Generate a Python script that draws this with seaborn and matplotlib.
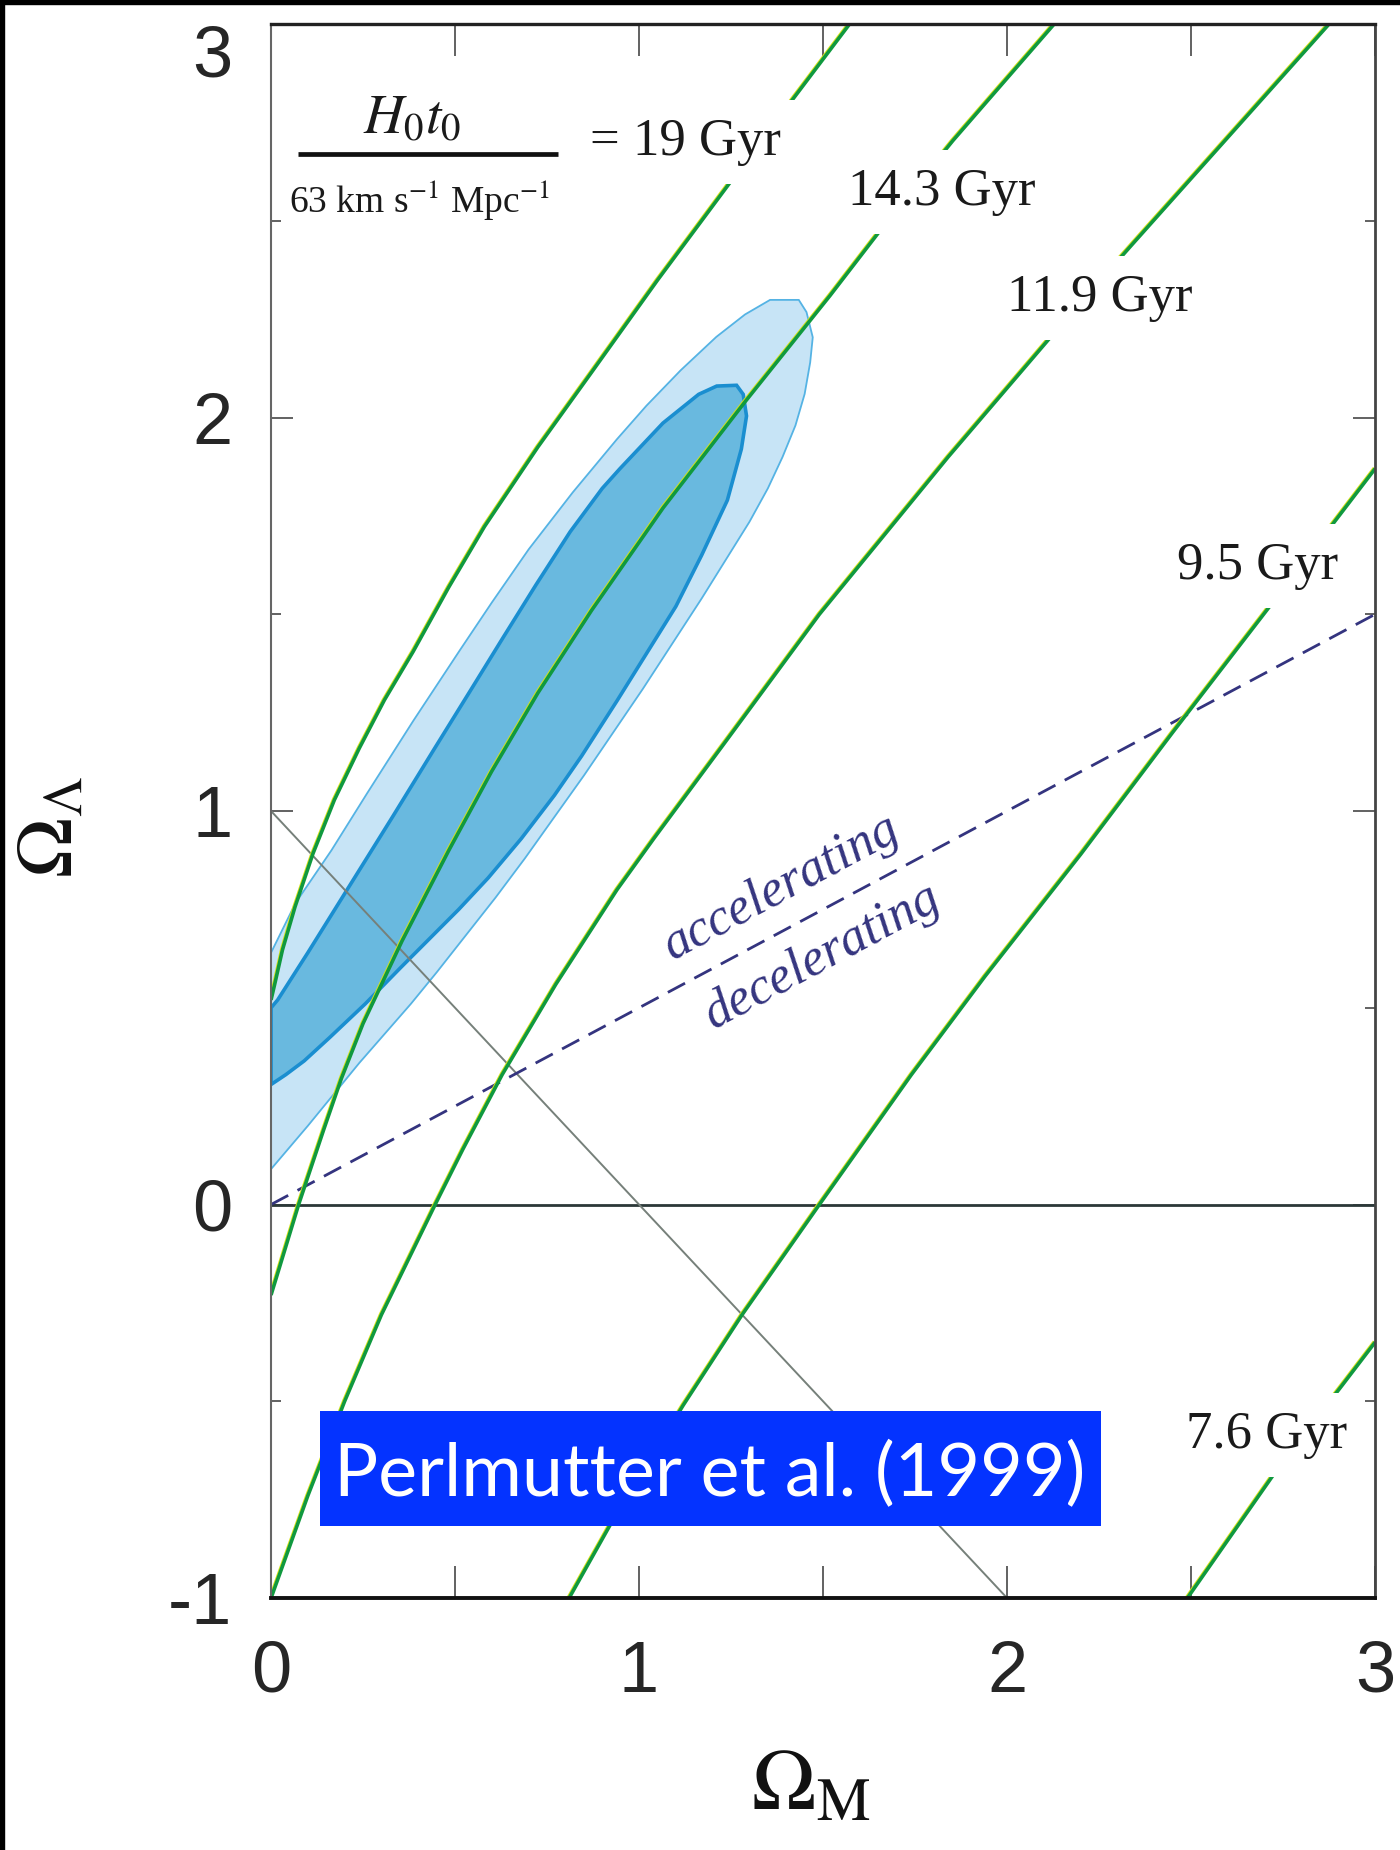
"""
plot.py
Perlmutter et al. (1999) confidence regions in the (Omega_M, Omega_Lambda) plane
with constant-age curves. Values read off the published figure.
"""

import numpy as np
import pandas as pd
import matplotlib
matplotlib.use("Agg")
import matplotlib.pyplot as plt
import matplotlib.patheffects as pe
import seaborn as sns
from matplotlib.patches import Rectangle

# ─── Data ──────────────────────────────────────────────────────────────────────
# constant-age curves, H0 t0 scaled to 63 km/s/Mpc
age_names = ["19 Gyr", "14.3 Gyr", "11.9 Gyr", "9.5 Gyr", "7.6 Gyr"]

age_19_om = [0.000, 0.009, 0.031, 0.065, 0.114, 0.172, 0.240, 0.308, 0.386, 0.483,
             0.580, 0.725, 0.871, 1.050, 1.266, 1.572]
age_19_ol = [0.520, 0.556, 0.647, 0.756, 0.892, 1.028, 1.160, 1.282, 1.405, 1.569,
             1.723, 1.925, 2.115, 2.349, 2.621, 3.000]

age_143_om = [0.000, 0.075, 0.143, 0.191, 0.250, 0.356, 0.483, 0.599, 0.725, 0.871,
              1.065, 1.288, 1.519, 1.673, 1.853, 2.128]
age_143_ol = [-0.230, 0.000, 0.190, 0.320, 0.460, 0.670, 0.900, 1.100, 1.300, 1.510,
              1.770, 2.040, 2.310, 2.497, 2.704, 3.000]

age_119_om = [0.000, 0.100, 0.200, 0.300, 0.446, 0.521, 0.628, 0.774, 0.940, 1.040,
              1.230, 1.490, 1.840, 2.160, 2.340, 2.875]
age_119_ol = [-1.000, -0.740, -0.500, -0.280, 0.000, 0.140, 0.330, 0.560, 0.800, 0.930,
              1.170, 1.500, 1.900, 2.250, 2.440, 3.000]

age_95_om = [0.81, 0.93, 1.12, 1.28, 1.49, 1.74, 1.94, 2.20, 2.45, 2.73, 3.00]
age_95_ol = [-1.00, -0.80, -0.51, -0.28, 0.00, 0.33, 0.58, 0.89, 1.20, 1.54, 1.87]

age_76_om = [2.49, 2.74, 2.91, 3.00]
age_76_ol = [-1.00, -0.665, -0.46, -0.35]

# label anchors (left / baseline) for each age curve
age_label_text = ["= 19 Gyr", "14.3 Gyr", "11.9 Gyr", "9.5 Gyr", "7.6 Gyr"]
age_label_om = [0.867, 1.567, 2.000, 2.462, 2.486]
age_label_ol = [2.667, 2.540, 2.271, 1.590, -0.618]

# outer (lighter) confidence region
outer_om = [0.000, 0.067, 0.164, 0.261, 0.387, 0.514, 0.600, 0.700, 0.820, 0.940,
            1.020, 1.113, 1.210, 1.288, 1.356, 1.434, 1.455, 1.472, 1.465, 1.450,
            1.425, 1.390, 1.350, 1.300, 1.240, 1.170, 1.090, 1.010, 0.930, 0.850,
            0.770, 0.690, 0.610, 0.530, 0.450, 0.380, 0.310, 0.240, 0.170, 0.100,
            0.050, 0.000]
outer_ol = [0.640, 0.767, 0.900, 1.045, 1.230, 1.410, 1.530, 1.665, 1.810, 1.945,
            2.030, 2.120, 2.205, 2.262, 2.299, 2.299, 2.268, 2.204, 2.140, 2.060,
            1.980, 1.900, 1.820, 1.735, 1.645, 1.540, 1.425, 1.310, 1.200, 1.090,
            0.985, 0.880, 0.780, 0.685, 0.590, 0.510, 0.435, 0.360, 0.280, 0.200,
            0.145, 0.090]

# inner (darker) confidence region
inner_om = [0.000, 0.018, 0.100, 0.200, 0.330, 0.445, 0.541, 0.630, 0.720, 0.813,
            0.900, 0.948, 1.065, 1.162, 1.211, 1.265, 1.283, 1.292, 1.278, 1.240,
            1.170, 1.100, 1.020, 0.940, 0.844, 0.770, 0.680, 0.590, 0.510, 0.430,
            0.350, 0.256, 0.160, 0.090, 0.040, 0.000]
inner_ol = [0.500, 0.520, 0.640, 0.790, 0.985, 1.160, 1.305, 1.440, 1.575, 1.710,
            1.820, 1.870, 1.986, 2.059, 2.080, 2.082, 2.059, 2.004, 1.920, 1.790,
            1.650, 1.520, 1.400, 1.280, 1.140, 1.040, 0.930, 0.830, 0.750, 0.675,
            0.600, 0.510, 0.425, 0.365, 0.330, 0.305]

# flat universe (Omega_M + Omega_Lambda = 1) and accelerating/decelerating boundary
flat_om = [0.0, 2.0]
flat_ol = [1.0, -1.0]
accel_om = [0.0, 3.0]
accel_ol = [0.0, 1.5]

x_major = [0, 1, 2, 3]
x_minor = [0.5, 1.5, 2.5]
y_major = [-1, 0, 1, 2, 3]
y_minor = [-0.5, 0.5, 1.5, 2.5]
x_ticklabels = ["0", "1", "2", "3"]
y_ticklabels = ["-1", "0", "1", "2", "3"]

GREEN = "#10993f"
YELLOW = "#d6e21a"
NAVY = "#34347f"
SERIF = ["Liberation Serif", "DejaVu Serif"]

# ─── Figure ────────────────────────────────────────────────────────────────────
sns.set_theme(style="ticks")
plt.rcParams["font.family"] = ["Liberation Sans", "DejaVu Sans"]
plt.rcParams["mathtext.fontset"] = "stix"
plt.rcParams["axes.unicode_minus"] = False

fig = plt.figure(figsize=(14, 18.5), dpi=100)
fig.patch.set_facecolor("white")
ax = fig.add_axes([0.1936, 0.1362, 0.7886, 0.8508])
ax.set_facecolor("white")

# black frame strips at top and left of the screenshot
fig.add_artist(Rectangle((0, 1 - 4 / 1850), 1, 4 / 1850, transform=fig.transFigure,
                         color="black", zorder=20))
fig.add_artist(Rectangle((0, 0), 4 / 1400, 1, transform=fig.transFigure,
                         color="black", zorder=20))

# confidence regions
ax.fill(outer_om, outer_ol, facecolor="#c7e4f6", edgecolor="#55b3e4", lw=1.3, zorder=1)
ax.fill(inner_om, inner_ol, facecolor="#69b9df", edgecolor="#1a8ed0", lw=2.6, zorder=1.2)

# reference lines
ax.axhline(0, color="#2b3838", lw=2.0, zorder=2)
sns.lineplot(x=flat_om, y=flat_ol, color="#76807a", lw=1.4, ax=ax, zorder=3)
sns.lineplot(x=accel_om, y=accel_ol, color=NAVY, lw=2.0, ax=ax, zorder=3)
ax.lines[-1].set_dashes((7, 3.8))

# age curves: green core with a thin yellow fringe on the upper-left side
curves = [(age_19_om, age_19_ol), (age_143_om, age_143_ol), (age_119_om, age_119_ol),
          (age_95_om, age_95_ol), (age_76_om, age_76_ol)]
df = pd.concat([
    pd.DataFrame({"om": om, "ol": ol, "age": name})
    for name, (om, ol) in zip(age_names, curves)
], ignore_index=True)
n_before = len(ax.lines)
sns.lineplot(data=df, x="om", y="ol", units="age", estimator=None, sort=False,
             color=GREEN, lw=2.6, ax=ax, legend=False, zorder=4)
for ln in ax.lines[n_before:]:
    ln.set_path_effects([pe.Stroke(linewidth=2.4, foreground=YELLOW, offset=(-0.6, 0.5)),
                         pe.Normal()])
    ln.set_solid_capstyle("butt")
    ln.set_solid_joinstyle("round")

# age labels (white box hides the curve behind the text)
for txt, lx, ly in zip(age_label_text, age_label_om, age_label_ol):
    ax.text(lx, ly, txt, fontsize=38, family=SERIF, color="#1a1a1a",
            ha="left", va="baseline", zorder=6,
            bbox=dict(boxstyle="square,pad=0.34", fc="white", ec="none"))

# H0 t0 / 63 km s-1 Mpc-1 fraction
ax.text(0.383, 2.723, r"$H_0t_0$", fontsize=40, color="#1a1a1a",
        ha="center", va="baseline", zorder=6)
ax.plot([0.072, 0.780], [2.671, 2.671], color="#111111", lw=3.4,
        solid_capstyle="butt", zorder=6)
ax.text(0.405, 2.521, r"63 km s$^{-1}$ Mpc$^{-1}$", fontsize=27, family=SERIF,
        color="#1a1a1a", ha="center", va="baseline", zorder=6)

# accelerating / decelerating
ang = np.degrees(np.arctan(0.5))
for txt, tx, ty in [("accelerating", 1.386, 0.805), ("decelerating", 1.497, 0.630)]:
    ax.text(tx, ty, txt, fontsize=37.5, style="italic", family=SERIF, color=NAVY,
            rotation=ang, rotation_mode="anchor", transform_rotates_text=True,
            ha="center", va="center", zorder=5)

# citation box
ax.add_patch(Rectangle((0.0444, 0.0457), 0.7069, 0.0731, transform=ax.transAxes,
                       facecolor="#0433ff", edgecolor="none", zorder=10))
ax.text(0.3976, 0.0645, "Perlmutter et al. (1999)", transform=ax.transAxes,
        fontsize=53, family=["Lato", "DejaVu Sans"], color="white",
        ha="center", va="baseline", zorder=11)

# ─── Axes styling ──────────────────────────────────────────────────────────────
ax.set_xlim(0, 3)
ax.set_ylim(-1, 3)
ax.set_xticks(x_major)
ax.set_xticks(x_minor, minor=True)
ax.set_yticks(y_major)
ax.set_yticks(y_minor, minor=True)
ax.set_xticklabels(x_ticklabels)
ax.set_yticklabels(y_ticklabels)
ax.get_yticklabels()[-1].set_va("top")

ax.tick_params(axis="x", which="both", direction="in", length=23, width=1.3,
               color="#555555", top=True, bottom=True, labelsize=52, pad=30)
ax.tick_params(axis="y", which="major", direction="in", length=16, width=1.3,
               color="#555555", left=True, right=True, labelsize=52, pad=28)
ax.tick_params(axis="y", which="minor", direction="in", length=7, width=1.3,
               color="#555555", left=True, right=True)

ax.spines["top"].set(lw=2.4, color="#222222")
ax.spines["bottom"].set(lw=2.8, color="#111111")
ax.spines["left"].set(lw=1.5, color="#666666")
ax.spines["right"].set(lw=2.0, color="#444444")
for s in ax.spines.values():
    s.set_zorder(7)

ax.set_xlabel(r"$\Omega_{\rm M}$", fontsize=62, color="#111111")
ax.xaxis.set_label_coords(0.489, -0.095)
ax.set_ylabel(r"$\Omega_\Lambda$", fontsize=58, color="#111111")
ax.yaxis.set_label_coords(-0.164, 0.49)

fig.savefig("out.png", dpi=100, facecolor="white")
